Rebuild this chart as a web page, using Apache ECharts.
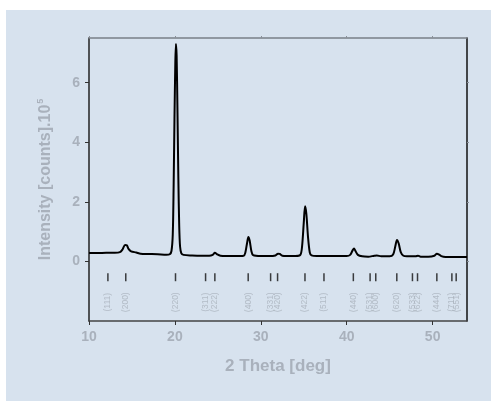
<!DOCTYPE html>
<html>
<head>
<meta charset="utf-8">
<script src="https://cdn.jsdelivr.net/npm/echarts@6/dist/echarts.min.js"></script>
<style>
  html, body { margin: 0; padding: 0; background: #fff; }
  #chart { position: absolute; left: 6px; top: 10px; width: 485px; height: 391px; }
</style>
</head>
<body>
<div id="chart"></div>
<script>
// measured pattern (2 theta, intensity x 10^5)
var patternX = [10, 11, 12, 13, 13.6, 13.9, 14.2, 14.4, 14.6, 14.9, 15.5, 16, 17, 18, 19, 19.4, 19.6, 19.75, 19.85, 19.95,
  20.05, 20.12, 20.2, 20.3, 20.4, 20.5, 20.6, 20.75, 21, 22, 23, 24, 24.4, 24.65, 24.9, 25.3, 26, 27, 28, 28.2,
  28.4, 28.55, 28.7, 28.9, 29.1, 30, 31, 31.7, 32.0, 32.2, 32.5, 33, 34, 34.6, 34.8, 35.0, 35.15, 35.3, 35.5, 35.7,
  35.9, 36.5, 38, 39, 40, 40.4, 40.7, 40.85, 41.0, 41.3, 41.8, 42.5, 43.2, 43.5, 44, 45, 45.4, 45.65, 45.85, 46.05,
  46.3, 46.6, 47, 48, 48.3, 48.6, 49.5, 50.2, 50.5, 50.7, 51, 51.5, 52, 53, 54];
var patternY = [0.28, 0.28, 0.29, 0.29, 0.31, 0.4, 0.55, 0.54, 0.42, 0.34, 0.3, 0.26, 0.25, 0.24, 0.22, 0.24, 0.35, 0.9, 2.5, 4.8,
  6.7, 7.3, 6.9, 5.0, 2.8, 1.2, 0.5, 0.27, 0.22, 0.2, 0.19, 0.19, 0.22, 0.29, 0.24, 0.19, 0.18, 0.18, 0.19, 0.3,
  0.62, 0.82, 0.7, 0.35, 0.21, 0.18, 0.18, 0.2, 0.26, 0.25, 0.19, 0.18, 0.18, 0.22, 0.5, 1.3, 1.85, 1.6, 0.8, 0.3,
  0.2, 0.18, 0.18, 0.18, 0.18, 0.22, 0.38, 0.43, 0.36, 0.22, 0.17, 0.16, 0.19, 0.2, 0.17, 0.17, 0.23, 0.5, 0.72, 0.6,
  0.3, 0.19, 0.17, 0.17, 0.19, 0.16, 0.16, 0.19, 0.26, 0.24, 0.18, 0.15, 0.15, 0.15, 0.15];

// reflection positions and Miller indices
var reflX = [12.2, 14.28, 20.07, 23.57, 24.65, 28.53, 31.14, 31.95, 35.14, 37.35, 40.77, 42.72, 43.38, 45.83, 47.65, 48.24, 50.49, 52.24, 52.74];
var reflHkl = ['(111)', '(200)', '(220)', '(311)', '(222)', '(400)', '(331)', '(420)', '(422)', '(511)', '(440)', '(531)', '(600)', '(620)', '(533)', '(622)', '(444)', '(711)', '(551)'];
var reflTickY = -0.53;
var reflLabelY = -1.37;

var yTicks = [0, 2, 4, 6];
var xTicks = [10, 20, 30, 40, 50];

var gray = '#a9b1bc';

var chart = echarts.init(document.getElementById('chart'));

var line = patternX.map(function (x, i) { return [x, patternY[i]]; });
var ticks = reflX.map(function (x) { return [x, reflTickY]; });
var labels = reflX.map(function (x, i) { return [x, reflLabelY, reflHkl[i]]; });

chart.setOption({
  backgroundColor: '#d7e2ee',
  animation: false,
  grid: { left: 83, top: 28, right: 24, bottom: 80 },
  xAxis: [{
    type: 'value',
    min: 10,
    max: 54,
    interval: 10,
    name: '2 Theta [deg]',
    nameLocation: 'middle',
    nameGap: 37,
    nameTextStyle: { color: gray, fontSize: 17, fontWeight: 'bold', fontFamily: 'Liberation Sans' },
    axisLine: { onZero: false, lineStyle: { color: '#444', width: 1.5 } },
    axisTick: { length: 4, customValues: xTicks, lineStyle: { color: '#333' } },
    axisLabel: {
      color: gray, fontSize: 14, fontWeight: 'bold', fontFamily: 'Liberation Sans', margin: 9,
      customValues: xTicks
    },
    splitLine: { show: false }
  }, {
    type: 'value',
    position: 'top',
    min: 10,
    max: 54,
    interval: 10,
    axisLine: { show: true, onZero: false, lineStyle: { color: '#7a8088', width: 1.5 } },
    axisTick: { show: true, length: 2, customValues: xTicks, lineStyle: { color: '#8a9098' } },
    axisLabel: { show: false },
    splitLine: { show: false }
  }],
  yAxis: [{
    type: 'value',
    min: -2,
    max: 7.5,
    interval: 2,
    name: '{a|Intensity [counts].10}{b|5}',
    nameLocation: 'middle',
    nameGap: 34,
    nameRotate: 90,
    nameTextStyle: {
      rich: {
        a: { color: gray, fontSize: 16, fontWeight: 'bold', fontFamily: 'Liberation Sans' },
        b: { color: gray, fontSize: 9, fontWeight: 'bold', fontFamily: 'Liberation Sans', verticalAlign: 'top', padding: [0, 0, 10, 1] }
      }
    },
    axisLine: { show: true, onZero: false, lineStyle: { color: '#222', width: 1.5 } },
    axisTick: { show: true, length: 4, customValues: yTicks, lineStyle: { color: '#333' } },
    axisLabel: {
      color: gray, fontSize: 14, fontWeight: 'bold', fontFamily: 'Liberation Sans', margin: 9,
      customValues: yTicks
    },
    splitLine: { show: false }
  }, {
    type: 'value',
    position: 'right',
    min: -2,
    max: 7.5,
    interval: 2,
    axisLine: { show: true, onZero: false, lineStyle: { color: '#111', width: 1.5 } },
    axisTick: { show: true, length: 2, customValues: yTicks, lineStyle: { color: '#8a9098' } },
    axisLabel: { show: false },
    splitLine: { show: false }
  }],
  series: [{
    type: 'line',
    data: line,
    smooth: 0.3,
    showSymbol: false,
    lineStyle: { color: '#000', width: 2 },
    z: 3
  }, {
    type: 'scatter',
    data: ticks,
    symbol: 'rect',
    symbolSize: [1.5, 8],
    itemStyle: { color: '#111' },
    silent: true
  }, {
    type: 'scatter',
    data: labels,
    symbolSize: 0,
    silent: true,
    label: {
      show: true,
      position: 'inside',
      rotate: 90,
      color: gray,
      fontSize: 8.5,
      fontFamily: 'Liberation Sans',
      formatter: function (p) { return p.value[2]; }
    }
  }]
});
</script>
</body>
</html>
